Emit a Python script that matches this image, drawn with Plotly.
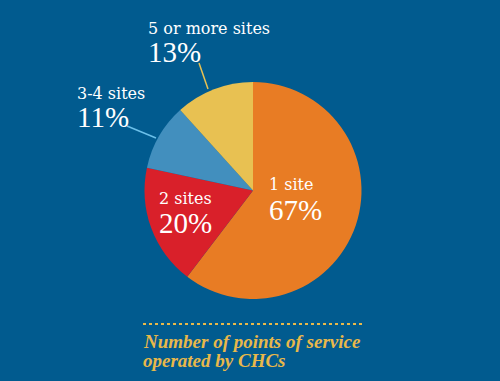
import plotly.graph_objects as go

categories = ["1 site", "2 sites", "3-4 sites", "5 or more sites"]
values = [67, 20, 11, 13]
pct_labels = ["67%", "20%", "11%", "13%"]
colors = ["#e87c24", "#d9202a", "#428fbe", "#e8c152"]
caption_lines = ["Number of points of service", "operated by CHCs"]

W, H = 500, 381
BG = "#015b8f"

def px(x):
    return x / W

def py(y):
    return 1 - y / H

fig = go.Figure()
fig.add_trace(go.Pie(
    labels=categories, values=values, sort=False, direction="clockwise",
    rotation=0, marker=dict(colors=colors, line=dict(width=0)),
    textinfo="none", hoverinfo="label+value", showlegend=False,
    domain=dict(x=[px(253 - 108.5), px(253 + 108.5)], y=[py(190.5 + 108.5), py(190.5 - 108.5)]),
))

# label positions (left x, vertical centre of label line, centre of pct line)
label_pos = {
    "1 site": (267, 185, 210),
    "2 sites": (157, 198.5, 223),
    "3-4 sites": (75, 93.5, 117),
    "5 or more sites": (146, 28.5, 52.5),
}
for cat, pct in zip(categories, pct_labels):
    x, yl, yp = label_pos[cat]
    fig.add_annotation(x=px(x), y=py(yl), xref="paper", yref="paper", text=cat,
                       showarrow=False, xanchor="left", yanchor="middle",
                       font=dict(family="DejaVu Serif", size=16, color="white"))
    fig.add_annotation(x=px(x), y=py(yp), xref="paper", yref="paper", text=pct,
                       showarrow=False, xanchor="left", yanchor="middle",
                       font=dict(family="Liberation Serif", size=29, color="white"))

for line, yc in zip(caption_lines, [341, 360]):
    fig.add_annotation(x=px(141), y=py(yc), xref="paper", yref="paper", text="<b><i>" + line + "</i></b>",
                       showarrow=False, xanchor="left", yanchor="middle", align="left",
                       font=dict(family="Liberation Serif", size=19, color="#e8b84a"))

shapes = [
    dict(type="line", xref="paper", yref="paper", x0=px(199), y0=py(63), x1=px(208), y1=py(89),
         line=dict(color="#e8c152", width=1.5)),
    dict(type="line", xref="paper", yref="paper", x0=px(127), y0=py(126), x1=px(156), y1=py(138),
         line=dict(color="#6cc0ea", width=1.5)),
    dict(type="line", xref="paper", yref="paper", x0=px(143), y0=py(324), x1=px(362), y1=py(324),
         line=dict(color="#e8b84a", width=2, dash="dot")),
]

fig.update_layout(width=W, height=H, margin=dict(l=0, r=0, t=0, b=0),
                  paper_bgcolor=BG, plot_bgcolor=BG, shapes=shapes)
fig.write_html("out.html")
